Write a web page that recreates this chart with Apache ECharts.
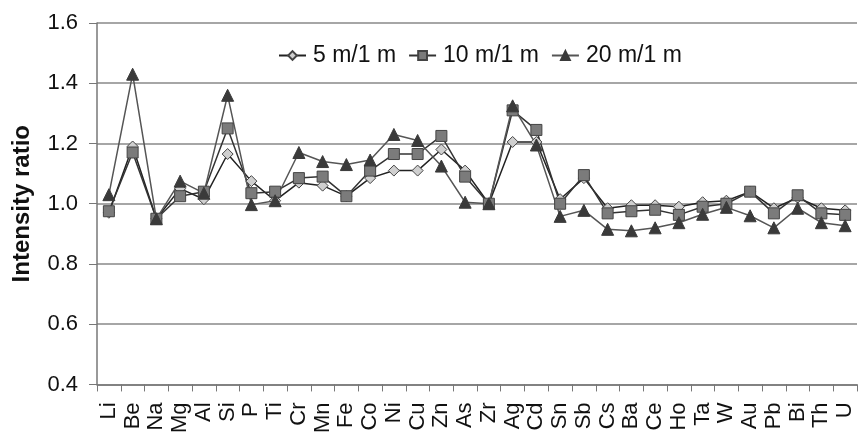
<!DOCTYPE html>
<html>
<head>
    <meta charset="UTF-8">
    <title>Intensity ratio</title>
    <script src="https://cdn.jsdelivr.net/npm/echarts/dist/echarts.min.js"></script>
    <style>
        html, body { margin: 0; padding: 0; background: #fff; }
    </style>
</head>
<body>
    <div id="chart" style="width: 859px;height:436px;"></div>
    <script type="text/javascript">
        var elements = ['Li', 'Be', 'Na', 'Mg', 'Al', 'Si', 'P', 'Ti', 'Cr', 'Mn', 'Fe', 'Co', 'Ni', 'Cu', 'Zn', 'As',
            'Zr', 'Ag', 'Cd', 'Sn', 'Sb', 'Cs', 'Ba', 'Ce', 'Ho', 'Ta', 'W', 'Au', 'Pb', 'Bi', 'Th', 'U'];
        var ratio5 = [0.97, 1.19, 0.95, 1.05, 1.015, 1.165, 1.075, 1.01, 1.07, 1.06, 1.025, 1.085, 1.11, 1.11, 1.18, 1.11,
            1.0, 1.205, 1.205, 1.015, 1.085, 0.985, 0.995, 0.995, 0.99, 1.005, 1.01, 1.04, 0.985, 1.02, 0.985, 0.978];
        var ratio10 = [0.975, 1.17, 0.95, 1.025, 1.04, 1.25, 1.035, 1.04, 1.085, 1.09, 1.025, 1.11, 1.165, 1.165, 1.225, 1.09,
            1.0, 1.31, 1.245, 1.0, 1.095, 0.968, 0.975, 0.98, 0.963, 0.99, 1.0, 1.04, 0.968, 1.028, 0.968, 0.963];
        var ratio20 = [1.03, 1.43, 0.95, 1.075, 1.035, 1.36, 0.997, 1.01, 1.17, 1.14, 1.13, 1.145, 1.23, 1.21, 1.125, 1.005,
            1.0, 1.325, 1.195, 0.958, 0.978, 0.915, 0.91, 0.92, 0.937, 0.965, 0.988, 0.96, 0.92, 0.985, 0.937, 0.927];
        var seriesNames = ['5 m/1 m', '10 m/1 m', '20 m/1 m'];

        var myChart = echarts.init(document.getElementById('chart'));
        var font = 'Liberation Sans, Arial, sans-serif';

        var option = {
            animation: false,
            textStyle: { fontFamily: font },
            grid: { left: 97, right: 2, top: 23, bottom: 49, containLabel: false },
            legend: {
                top: 39,
                left: 273,
                itemGap: 12,
                itemWidth: 27,
                itemHeight: 11,
                textStyle: { fontSize: 23, color: '#111', fontFamily: font, padding: [0, 0, 0, 2] },
                data: seriesNames
            },
            xAxis: {
                type: 'category',
                data: elements,
                axisLine: { lineStyle: { color: '#777', width: 1.5 } },
                axisTick: { show: true, inside: false, length: 7, lineStyle: { color: '#777' } },
                axisLabel: { rotate: 90, fontSize: 22, color: '#111', margin: 18, interval: 0, fontFamily: font }
            },
            yAxis: {
                type: 'value',
                min: 0.4,
                max: 1.6,
                interval: 0.2,
                name: 'Intensity ratio',
                nameLocation: 'middle',
                nameGap: 63,
                nameTextStyle: { fontSize: 24, fontWeight: 'bold', color: '#111', fontFamily: font },
                axisLine: { show: true, lineStyle: { color: '#777', width: 1.5 } },
                axisTick: { show: true, length: 8, lineStyle: { color: '#777' } },
                splitLine: { lineStyle: { color: '#888', width: 1.5 } },
                axisLabel: {
                    fontSize: 22, color: '#111', margin: 19, fontFamily: font,
                    formatter: function (v) { return v.toFixed(1); }
                }
            },
            series: [
                {
                    name: seriesNames[0],
                    type: 'line',
                    data: ratio5,
                    symbol: 'diamond',
                    symbolSize: 11,
                    lineStyle: { color: '#222', width: 1.5 },
                    itemStyle: { color: '#cfcfcf', borderColor: '#444', borderWidth: 1 }
                },
                {
                    name: seriesNames[1],
                    type: 'line',
                    data: ratio10,
                    symbol: 'rect',
                    symbolSize: 11,
                    lineStyle: { color: '#333', width: 1.5 },
                    itemStyle: { color: '#7b7b7b', borderColor: '#444', borderWidth: 1 }
                },
                {
                    name: seriesNames[2],
                    type: 'line',
                    data: ratio20,
                    symbol: 'triangle',
                    symbolSize: 12,
                    lineStyle: { color: '#555', width: 1.5 },
                    itemStyle: { color: '#3a3a3a', borderColor: '#3a3a3a', borderWidth: 1 }
                }
            ]
        };

        myChart.setOption(option);
    </script>
</body>
</html>
